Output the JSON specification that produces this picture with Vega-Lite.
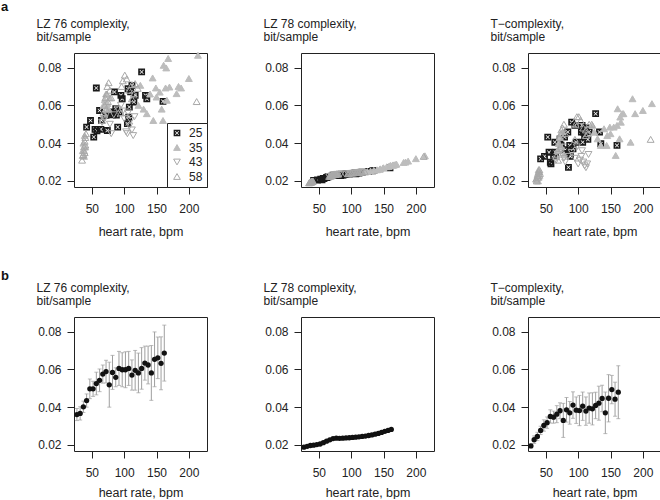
{
  "$schema": "https://vega.github.io/schema/vega-lite/v6.json",
  "padding": {"left": 0, "top": 0, "right": 0, "bottom": 0},
  "background": "white",
  "datasets": {
    "pts": [
      {"g":"25","hr":42,"lz76":0.0485,"lz78":0.0203,"tc":0.0317},
      {"g":"25","hr":48,"lz76":0.0520,"lz78":0.0205,"tc":0.0330},
      {"g":"25","hr":53,"lz76":0.0432,"lz78":0.0209,"tc":0.0432},
      {"g":"25","hr":55,"lz76":0.0473,"lz78":0.0206,"tc":0.0352},
      {"g":"25","hr":57,"lz76":0.0692,"lz78":0.0214,"tc":0.0299},
      {"g":"25","hr":58,"lz76":0.0465,"lz78":0.0212,"tc":0.0290},
      {"g":"25","hr":62,"lz76":0.0573,"lz78":0.0218,"tc":0.0335},
      {"g":"25","hr":64,"lz76":0.0473,"lz78":0.0221,"tc":0.0405},
      {"g":"25","hr":65,"lz76":0.0520,"lz78":0.0224,"tc":0.0352},
      {"g":"25","hr":72,"lz76":0.0547,"lz78":0.0230,"tc":0.0423},
      {"g":"25","hr":74,"lz76":0.0467,"lz78":0.0228,"tc":0.0388},
      {"g":"25","hr":79,"lz76":0.0565,"lz78":0.0233,"tc":0.0432},
      {"g":"25","hr":80,"lz76":0.0560,"lz78":0.0232,"tc":0.0365},
      {"g":"25","hr":82,"lz76":0.0550,"lz78":0.0231,"tc":0.0345},
      {"g":"25","hr":84,"lz76":0.0556,"lz78":0.0229,"tc":0.0459},
      {"g":"25","hr":85,"lz76":0.0671,"lz78":0.0236,"tc":0.0272},
      {"g":"25","hr":87,"lz76":0.0582,"lz78":0.0231,"tc":0.0388},
      {"g":"25","hr":88,"lz76":0.0548,"lz78":0.0233,"tc":0.0330},
      {"g":"25","hr":90,"lz76":0.0485,"lz78":0.0234,"tc":0.0511},
      {"g":"25","hr":92,"lz76":0.0565,"lz78":0.0237,"tc":0.0370},
      {"g":"25","hr":95,"lz76":0.0653,"lz78":0.0239,"tc":0.0494},
      {"g":"25","hr":97,"lz76":0.0635,"lz78":0.0236,"tc":0.0405},
      {"g":"25","hr":105,"lz76":0.0503,"lz78":0.0240,"tc":0.0459},
      {"g":"25","hr":106,"lz76":0.0688,"lz78":0.0243,"tc":0.0494},
      {"g":"25","hr":107,"lz76":0.0538,"lz78":0.0238,"tc":0.0405},
      {"g":"25","hr":108,"lz76":0.0591,"lz78":0.0241,"tc":0.0459},
      {"g":"25","hr":110,"lz76":0.0671,"lz78":0.0244,"tc":0.0440},
      {"g":"25","hr":112,"lz76":0.0706,"lz78":0.0242,"tc":0.0480},
      {"g":"25","hr":115,"lz76":0.0618,"lz78":0.0245,"tc":0.0420},
      {"g":"25","hr":117,"lz76":0.0653,"lz78":0.0246,"tc":0.0460},
      {"g":"25","hr":127,"lz76":0.0777,"lz78":0.0250,"tc":0.0556},
      {"g":"25","hr":133,"lz76":0.0653,"lz78":0.0253,"tc":0.0459},
      {"g":"25","hr":135,"lz76":0.0635,"lz78":0.0255,"tc":0.0397},
      {"g":"25","hr":160,"lz76":0.0621,"lz78":0.0270,"tc":0.0388},
      {"g":"35","hr":36,"lz76":0.0360,"lz78":0.0193,"tc":0.0210},
      {"g":"35","hr":37,"lz76":0.0400,"lz78":0.0195,"tc":0.0230},
      {"g":"35","hr":38,"lz76":0.0330,"lz78":0.0192,"tc":0.0200},
      {"g":"35","hr":39,"lz76":0.0440,"lz78":0.0197,"tc":0.0260},
      {"g":"35","hr":40,"lz76":0.0380,"lz78":0.0196,"tc":0.0250},
      {"g":"35","hr":68,"lz76":0.0600,"lz78":0.0226,"tc":0.0360},
      {"g":"35","hr":70,"lz76":0.0630,"lz78":0.0231,"tc":0.0400},
      {"g":"35","hr":72,"lz76":0.0660,"lz78":0.0233,"tc":0.0430},
      {"g":"35","hr":74,"lz76":0.0610,"lz78":0.0235,"tc":0.0380},
      {"g":"35","hr":76,"lz76":0.0580,"lz78":0.0236,"tc":0.0460},
      {"g":"35","hr":78,"lz76":0.0640,"lz78":0.0238,"tc":0.0340},
      {"g":"35","hr":122,"lz76":0.0600,"lz78":0.0248,"tc":0.0494},
      {"g":"35","hr":125,"lz76":0.0706,"lz78":0.0250,"tc":0.0458},
      {"g":"35","hr":130,"lz76":0.0580,"lz78":0.0252,"tc":0.0423},
      {"g":"35","hr":135,"lz76":0.0556,"lz78":0.0256,"tc":0.0388},
      {"g":"35","hr":140,"lz76":0.0660,"lz78":0.0259,"tc":0.0476},
      {"g":"35","hr":144,"lz76":0.0745,"lz78":0.0262,"tc":0.0388},
      {"g":"35","hr":145,"lz76":0.0520,"lz78":0.0264,"tc":0.0440},
      {"g":"35","hr":149,"lz76":0.0692,"lz78":0.0268,"tc":0.0485},
      {"g":"35","hr":150,"lz76":0.0644,"lz78":0.0270,"tc":0.0450},
      {"g":"35","hr":155,"lz76":0.0670,"lz78":0.0275,"tc":0.0485},
      {"g":"35","hr":158,"lz76":0.0580,"lz78":0.0277,"tc":0.0335},
      {"g":"35","hr":160,"lz76":0.0520,"lz78":0.0280,"tc":0.0494},
      {"g":"35","hr":161,"lz76":0.0812,"lz78":0.0282,"tc":0.0582},
      {"g":"35","hr":164,"lz76":0.0692,"lz78":0.0283,"tc":0.0423},
      {"g":"35","hr":165,"lz76":0.0798,"lz78":0.0285,"tc":0.0538},
      {"g":"35","hr":166,"lz76":0.0627,"lz78":0.0284,"tc":0.0511},
      {"g":"35","hr":168,"lz76":0.0848,"lz78":0.0287,"tc":0.0556},
      {"g":"35","hr":170,"lz76":0.0697,"lz78":0.0289,"tc":0.0556},
      {"g":"35","hr":181,"lz76":0.0662,"lz78":0.0298,"tc":0.0405},
      {"g":"35","hr":184,"lz76":0.0700,"lz78":0.0300,"tc":0.0635},
      {"g":"35","hr":188,"lz76":0.0692,"lz78":0.0305,"tc":0.0556},
      {"g":"35","hr":200,"lz76":0.0742,"lz78":0.0318,"tc":0.0573},
      {"g":"35","hr":214,"lz76":0.0865,"lz78":0.0333,"tc":0.0609},
      {"g":"43","hr":66,"lz76":0.0510,"lz78":0.0223,"tc":0.0310},
      {"g":"43","hr":70,"lz76":0.0530,"lz78":0.0227,"tc":0.0340},
      {"g":"43","hr":74,"lz76":0.0560,"lz78":0.0233,"tc":0.0360},
      {"g":"43","hr":78,"lz76":0.0500,"lz78":0.0235,"tc":0.0320},
      {"g":"43","hr":80,"lz76":0.0450,"lz78":0.0234,"tc":0.0300},
      {"g":"43","hr":84,"lz76":0.0550,"lz78":0.0236,"tc":0.0330},
      {"g":"43","hr":90,"lz76":0.0580,"lz78":0.0237,"tc":0.0350},
      {"g":"43","hr":95,"lz76":0.0600,"lz78":0.0238,"tc":0.0320},
      {"g":"43","hr":98,"lz76":0.0570,"lz78":0.0239,"tc":0.0380},
      {"g":"43","hr":100,"lz76":0.0530,"lz78":0.0240,"tc":0.0290},
      {"g":"43","hr":103,"lz76":0.0460,"lz78":0.0241,"tc":0.0310},
      {"g":"43","hr":105,"lz76":0.0450,"lz78":0.0242,"tc":0.0330},
      {"g":"43","hr":106,"lz76":0.0560,"lz78":0.0240,"tc":0.0360},
      {"g":"43","hr":108,"lz76":0.0490,"lz78":0.0243,"tc":0.0300},
      {"g":"43","hr":110,"lz76":0.0520,"lz78":0.0244,"tc":0.0280},
      {"g":"43","hr":112,"lz76":0.0470,"lz78":0.0245,"tc":0.0270},
      {"g":"43","hr":114,"lz76":0.0440,"lz78":0.0246,"tc":0.0290},
      {"g":"43","hr":116,"lz76":0.0540,"lz78":0.0247,"tc":0.0340},
      {"g":"58","hr":35,"lz76":0.0310,"lz78":0.0190,"tc":0.0210},
      {"g":"58","hr":36,"lz76":0.0335,"lz78":0.0191,"tc":0.0200},
      {"g":"58","hr":37,"lz76":0.0340,"lz78":0.0194,"tc":0.0220},
      {"g":"58","hr":38,"lz76":0.0360,"lz78":0.0196,"tc":0.0230},
      {"g":"58","hr":38,"lz76":0.0380,"lz78":0.0195,"tc":0.0240},
      {"g":"58","hr":39,"lz76":0.0350,"lz78":0.0197,"tc":0.0220},
      {"g":"58","hr":39,"lz76":0.0410,"lz78":0.0198,"tc":0.0250},
      {"g":"58","hr":40,"lz76":0.0390,"lz78":0.0197,"tc":0.0230},
      {"g":"58","hr":40,"lz76":0.0430,"lz78":0.0199,"tc":0.0260},
      {"g":"58","hr":41,"lz76":0.0450,"lz78":0.0200,"tc":0.0240},
      {"g":"58","hr":66,"lz76":0.0520,"lz78":0.0224,"tc":0.0330},
      {"g":"58","hr":68,"lz76":0.0560,"lz78":0.0228,"tc":0.0360},
      {"g":"58","hr":69,"lz76":0.0550,"lz78":0.0226,"tc":0.0310},
      {"g":"58","hr":70,"lz76":0.0600,"lz78":0.0230,"tc":0.0400},
      {"g":"58","hr":71,"lz76":0.0640,"lz78":0.0233,"tc":0.0430},
      {"g":"58","hr":72,"lz76":0.0580,"lz78":0.0232,"tc":0.0380},
      {"g":"58","hr":73,"lz76":0.0660,"lz78":0.0235,"tc":0.0450},
      {"g":"58","hr":74,"lz76":0.0700,"lz78":0.0236,"tc":0.0470},
      {"g":"58","hr":75,"lz76":0.0620,"lz78":0.0234,"tc":0.0410},
      {"g":"58","hr":76,"lz76":0.0720,"lz78":0.0237,"tc":0.0480},
      {"g":"58","hr":78,"lz76":0.0680,"lz78":0.0238,"tc":0.0500},
      {"g":"58","hr":80,"lz76":0.0640,"lz78":0.0236,"tc":0.0450},
      {"g":"58","hr":95,"lz76":0.0560,"lz78":0.0238,"tc":0.0420},
      {"g":"58","hr":96,"lz76":0.0700,"lz78":0.0240,"tc":0.0500},
      {"g":"58","hr":98,"lz76":0.0730,"lz78":0.0241,"tc":0.0540},
      {"g":"58","hr":101,"lz76":0.0760,"lz78":0.0242,"tc":0.0540},
      {"g":"58","hr":104,"lz76":0.0740,"lz78":0.0243,"tc":0.0520},
      {"g":"58","hr":108,"lz76":0.0680,"lz78":0.0244,"tc":0.0480},
      {"g":"58","hr":112,"lz76":0.0710,"lz78":0.0245,"tc":0.0470},
      {"g":"58","hr":112,"lz76":0.0635,"lz78":0.0244,"tc":0.0440},
      {"g":"58","hr":115,"lz76":0.0660,"lz78":0.0246,"tc":0.0450},
      {"g":"58","hr":117,"lz76":0.0715,"lz78":0.0247,"tc":0.0500},
      {"g":"58","hr":121,"lz76":0.0690,"lz78":0.0249,"tc":0.0500},
      {"g":"58","hr":212,"lz76":0.0620,"lz78":0.0330,"tc":0.0420}
    ],
    "bins": [
      {"hr":27,"lz76":0.0361,"lz76_lo":0.0329,"lz76_hi":0.0393,"lz78":0.0188,"lz78_lo":0.0186,"lz78_hi":0.0190,"tc":0.0195,"tc_lo":0.0185,"tc_hi":0.0205},
      {"hr":32,"lz76":0.0367,"lz76_lo":0.0332,"lz76_hi":0.0402,"lz78":0.0193,"lz78_lo":0.0191,"lz78_hi":0.0195,"tc":0.0228,"tc_lo":0.0208,"tc_hi":0.0248},
      {"hr":37,"lz76":0.0402,"lz76_lo":0.0372,"lz76_hi":0.0432,"lz78":0.0197,"lz78_lo":0.0195,"lz78_hi":0.0199,"tc":0.0245,"tc_lo":0.0223,"tc_hi":0.0267},
      {"hr":42,"lz76":0.0435,"lz76_lo":0.0400,"lz76_hi":0.0470,"lz78":0.0199,"lz78_lo":0.0197,"lz78_hi":0.0201,"tc":0.0277,"tc_lo":0.0255,"tc_hi":0.0299},
      {"hr":47,"lz76":0.0497,"lz76_lo":0.0445,"lz76_hi":0.0549,"lz78":0.0202,"lz78_lo":0.0200,"lz78_hi":0.0204,"tc":0.0303,"tc_lo":0.0273,"tc_hi":0.0333},
      {"hr":52,"lz76":0.0497,"lz76_lo":0.0457,"lz76_hi":0.0537,"lz78":0.0205,"lz78_lo":0.0203,"lz78_hi":0.0207,"tc":0.0318,"tc_lo":0.0288,"tc_hi":0.0348},
      {"hr":57,"lz76":0.0525,"lz76_lo":0.0465,"lz76_hi":0.0585,"lz78":0.0212,"lz78_lo":0.0210,"lz78_hi":0.0214,"tc":0.0351,"tc_lo":0.0316,"tc_hi":0.0386},
      {"hr":62,"lz76":0.0542,"lz76_lo":0.0482,"lz76_hi":0.0602,"lz78":0.0220,"lz78_lo":0.0218,"lz78_hi":0.0222,"tc":0.0347,"tc_lo":0.0315,"tc_hi":0.0379},
      {"hr":67,"lz76":0.0575,"lz76_lo":0.0527,"lz76_hi":0.0623,"lz78":0.0227,"lz78_lo":0.0225,"lz78_hi":0.0229,"tc":0.0363,"tc_lo":0.0318,"tc_hi":0.0408},
      {"hr":72,"lz76":0.0588,"lz76_lo":0.0528,"lz76_hi":0.0648,"lz78":0.0234,"lz78_lo":0.0232,"lz78_hi":0.0236,"tc":0.0381,"tc_lo":0.0339,"tc_hi":0.0423},
      {"hr":77,"lz76":0.0518,"lz76_lo":0.0400,"lz76_hi":0.0638,"lz78":0.0236,"lz78_lo":0.0234,"lz78_hi":0.0238,"tc":0.0330,"tc_lo":0.0240,"tc_hi":0.0420},
      {"hr":82,"lz76":0.0584,"lz76_lo":0.0494,"lz76_hi":0.0674,"lz78":0.0235,"lz78_lo":0.0233,"lz78_hi":0.0237,"tc":0.0386,"tc_lo":0.0321,"tc_hi":0.0451},
      {"hr":87,"lz76":0.0558,"lz76_lo":0.0508,"lz76_hi":0.0608,"lz78":0.0236,"lz78_lo":0.0234,"lz78_hi":0.0238,"tc":0.0370,"tc_lo":0.0310,"tc_hi":0.0430},
      {"hr":92,"lz76":0.0605,"lz76_lo":0.0515,"lz76_hi":0.0695,"lz78":0.0237,"lz78_lo":0.0235,"lz78_hi":0.0239,"tc":0.0411,"tc_lo":0.0341,"tc_hi":0.0481},
      {"hr":97,"lz76":0.0598,"lz76_lo":0.0508,"lz76_hi":0.0688,"lz78":0.0238,"lz78_lo":0.0236,"lz78_hi":0.0240,"tc":0.0384,"tc_lo":0.0314,"tc_hi":0.0454},
      {"hr":102,"lz76":0.0598,"lz76_lo":0.0503,"lz76_hi":0.0693,"lz78":0.0240,"lz78_lo":0.0238,"lz78_hi":0.0242,"tc":0.0382,"tc_lo":0.0302,"tc_hi":0.0462},
      {"hr":107,"lz76":0.0605,"lz76_lo":0.0515,"lz76_hi":0.0695,"lz78":0.0241,"lz78_lo":0.0239,"lz78_hi":0.0243,"tc":0.0405,"tc_lo":0.0330,"tc_hi":0.0480},
      {"hr":112,"lz76":0.0570,"lz76_lo":0.0490,"lz76_hi":0.0650,"lz78":0.0243,"lz78_lo":0.0241,"lz78_hi":0.0245,"tc":0.0379,"tc_lo":0.0304,"tc_hi":0.0454},
      {"hr":117,"lz76":0.0595,"lz76_lo":0.0490,"lz76_hi":0.0700,"lz78":0.0245,"lz78_lo":0.0243,"lz78_hi":0.0247,"tc":0.0395,"tc_lo":0.0315,"tc_hi":0.0475},
      {"hr":122,"lz76":0.0581,"lz76_lo":0.0476,"lz76_hi":0.0686,"lz78":0.0247,"lz78_lo":0.0245,"lz78_hi":0.0249,"tc":0.0391,"tc_lo":0.0306,"tc_hi":0.0476},
      {"hr":127,"lz76":0.0605,"lz76_lo":0.0495,"lz76_hi":0.0715,"lz78":0.0250,"lz78_lo":0.0248,"lz78_hi":0.0252,"tc":0.0409,"tc_lo":0.0339,"tc_hi":0.0479},
      {"hr":132,"lz76":0.0633,"lz76_lo":0.0543,"lz76_hi":0.0723,"lz78":0.0253,"lz78_lo":0.0251,"lz78_hi":0.0255,"tc":0.0421,"tc_lo":0.0331,"tc_hi":0.0511},
      {"hr":137,"lz76":0.0623,"lz76_lo":0.0523,"lz76_hi":0.0723,"lz78":0.0257,"lz78_lo":0.0255,"lz78_hi":0.0259,"tc":0.0446,"tc_lo":0.0376,"tc_hi":0.0516},
      {"hr":142,"lz76":0.0581,"lz76_lo":0.0436,"lz76_hi":0.0726,"lz78":0.0261,"lz78_lo":0.0259,"lz78_hi":0.0263,"tc":0.0370,"tc_lo":0.0260,"tc_hi":0.0480},
      {"hr":147,"lz76":0.0653,"lz76_lo":0.0508,"lz76_hi":0.0798,"lz78":0.0266,"lz78_lo":0.0264,"lz78_hi":0.0268,"tc":0.0447,"tc_lo":0.0322,"tc_hi":0.0572},
      {"hr":152,"lz76":0.0661,"lz76_lo":0.0551,"lz76_hi":0.0771,"lz78":0.0272,"lz78_lo":0.0270,"lz78_hi":0.0274,"tc":0.0493,"tc_lo":0.0418,"tc_hi":0.0568},
      {"hr":157,"lz76":0.0632,"lz76_lo":0.0492,"lz76_hi":0.0772,"lz78":0.0277,"lz78_lo":0.0275,"lz78_hi":0.0279,"tc":0.0442,"tc_lo":0.0352,"tc_hi":0.0532},
      {"hr":162,"lz76":0.0686,"lz76_lo":0.0538,"lz76_hi":0.0834,"lz78":0.0282,"lz78_lo":0.0280,"lz78_hi":0.0284,"tc":0.0479,"tc_lo":0.0339,"tc_hi":0.0619}
    ]
  },
  "config": {
    "font": "Liberation Sans",
    "view": {"stroke": "#222222", "strokeWidth": 1},
    "axis": {
      "grid": false, "domain": false, "tickColor": "#222222", "tickSize": 7, "tickWidth": 1,
      "labelColor": "#222222", "labelFontSize": 12, "labelFont": "Liberation Sans",
      "titleColor": "#222222", "titleFontSize": 12, "titleFontWeight": "normal", "titleFont": "Liberation Sans"
    },
    "axisX": {"labelPadding": 9, "titleY": 48, "titleBaseline": "alphabetic", "titleFontSize": 12.5},
    "axisY": {"labelPadding": 6, "titleAngle": 0, "titleAlign": "left", "titleBaseline": "top", "titleX": -38, "titleY": -35, "titleLineHeight": 13},
    "title": {"anchor": "start", "frame": "group", "fontSize": 13, "fontWeight": "bold", "color": "#111111", "dx": -73, "offset": 3}
  },
  "columns": 3,
  "spacing": {"row": 130, "column": 94},
  "bounds": "flush",
  "resolve": {
    "scale": {"x": "independent", "y": "independent", "shape": "independent", "fill": "independent", "stroke": "independent"},
    "legend": {"shape": "independent", "fill": "independent", "stroke": "independent"}
  },
  "concat": [
    {
      "title": {"text": "a", "offset": 3},
      "width": 133, "height": 134,
      "data": {"name": "pts"},
      "mark": {"type": "point", "size": 47, "strokeWidth": 1, "opacity": 1},
      "encoding": {
        "x": {"field": "hr", "type": "quantitative", "scale": {"domain": [22.5, 228], "nice": false, "zero": false}, "axis": {"values": [50, 100, 150, 200], "title": "heart rate, bpm"}},
        "y": {"field": "lz76", "type": "quantitative", "scale": {"domain": [0.0168, 0.0877], "nice": false, "zero": false}, "axis": {"values": [0.02, 0.04, 0.06, 0.08], "format": ".2f", "title": ["LZ 76 complexity,", "bit/sample"]}},
        "shape": {"field": "g", "type": "nominal", "scale": {"domain": ["25", "35", "43", "58"], "range": ["M-1,-1H1V1H-1ZM0,-0.15L-0.45,-0.6L-0.6,-0.45L-0.15,0L-0.6,0.45L-0.45,0.6L0,0.15L0.45,0.6L0.6,0.45L0.15,0L0.6,-0.45L0.45,-0.6Z", "triangle-up", "triangle-down", "triangle-up"]},
          "legend": {"title": null, "orient": "bottom-right", "offset": 0, "padding": 4, "strokeColor": "#222222", "fillColor": "white", "labelFontSize": 12, "labelColor": "#222222", "symbolSize": 45, "rowPadding": 2.5, "labelOffset": 6, "symbolStrokeWidth": 1}},
        "fill": {"field": "g", "type": "nominal", "scale": {"domain": ["25", "35", "43", "58"], "range": ["#1a1a1a", "#bdbdbd", "transparent", "transparent"]}},
        "stroke": {"field": "g", "type": "nominal", "scale": {"domain": ["25", "35", "43", "58"], "range": ["transparent", "#bdbdbd", "#a8a8a8", "#a8a8a8"]}}
      }
    },
    {
      "width": 133, "height": 134,
      "data": {"name": "pts"},
      "mark": {"type": "point", "size": 47, "strokeWidth": 1, "opacity": 1},
      "encoding": {
        "x": {"field": "hr", "type": "quantitative", "scale": {"domain": [22.5, 228], "nice": false, "zero": false}, "axis": {"values": [50, 100, 150, 200], "title": "heart rate, bpm"}},
        "y": {"field": "lz78", "type": "quantitative", "scale": {"domain": [0.0168, 0.0877], "nice": false, "zero": false}, "axis": {"values": [0.02, 0.04, 0.06, 0.08], "format": ".2f", "title": ["LZ 78 complexity,", "bit/sample"]}},
        "shape": {"field": "g", "type": "nominal", "legend": null, "scale": {"domain": ["25", "35", "43", "58"], "range": ["M-1,-1H1V1H-1ZM0,-0.15L-0.45,-0.6L-0.6,-0.45L-0.15,0L-0.6,0.45L-0.45,0.6L0,0.15L0.45,0.6L0.6,0.45L0.15,0L0.6,-0.45L0.45,-0.6Z", "triangle-up", "triangle-down", "triangle-up"]}},
        "fill": {"field": "g", "type": "nominal", "legend": null, "scale": {"domain": ["25", "35", "43", "58"], "range": ["#1a1a1a", "#bdbdbd", "transparent", "transparent"]}},
        "stroke": {"field": "g", "type": "nominal", "legend": null, "scale": {"domain": ["25", "35", "43", "58"], "range": ["transparent", "#bdbdbd", "#a8a8a8", "#a8a8a8"]}}
      }
    },
    {
      "width": 133, "height": 134,
      "data": {"name": "pts"},
      "mark": {"type": "point", "size": 47, "strokeWidth": 1, "opacity": 1},
      "encoding": {
        "x": {"field": "hr", "type": "quantitative", "scale": {"domain": [22.5, 228], "nice": false, "zero": false}, "axis": {"values": [50, 100, 150, 200], "title": "heart rate, bpm"}},
        "y": {"field": "tc", "type": "quantitative", "scale": {"domain": [0.0168, 0.0877], "nice": false, "zero": false}, "axis": {"values": [0.02, 0.04, 0.06, 0.08], "format": ".2f", "title": ["T−complexity,", "bit/sample"]}},
        "shape": {"field": "g", "type": "nominal", "legend": null, "scale": {"domain": ["25", "35", "43", "58"], "range": ["M-1,-1H1V1H-1ZM0,-0.15L-0.45,-0.6L-0.6,-0.45L-0.15,0L-0.6,0.45L-0.45,0.6L0,0.15L0.45,0.6L0.6,0.45L0.15,0L0.6,-0.45L0.45,-0.6Z", "triangle-up", "triangle-down", "triangle-up"]}},
        "fill": {"field": "g", "type": "nominal", "legend": null, "scale": {"domain": ["25", "35", "43", "58"], "range": ["#1a1a1a", "#bdbdbd", "transparent", "transparent"]}},
        "stroke": {"field": "g", "type": "nominal", "legend": null, "scale": {"domain": ["25", "35", "43", "58"], "range": ["transparent", "#bdbdbd", "#a8a8a8", "#a8a8a8"]}}
      }
    },
    {
      "title": {"text": "b", "offset": -2},
      "width": 133, "height": 134,
      "data": {"name": "bins"},
      "layer": [
        {
          "mark": {"type": "errorbar", "color": "#9e9e9e", "thickness": 1, "ticks": {"size": 4, "color": "#9e9e9e"}},
          "encoding": {
            "x": {"field": "hr", "type": "quantitative", "scale": {"domain": [22.5, 228], "nice": false, "zero": false}, "axis": {"values": [50, 100, 150, 200], "title": "heart rate, bpm", "titleY": 45}},
            "y": {"field": "lz76_lo", "type": "quantitative", "scale": {"domain": [0.0168, 0.0877], "nice": false, "zero": false}, "axis": {"values": [0.02, 0.04, 0.06, 0.08], "format": ".2f", "title": ["LZ 76 complexity,", "bit/sample"]}},
            "y2": {"field": "lz76_hi"}
          }
        },
        {
          "mark": {"type": "circle", "size": 28, "color": "#111111", "opacity": 1},
          "encoding": {
            "x": {"field": "hr", "type": "quantitative", "scale": {"domain": [22.5, 228], "nice": false, "zero": false}, "axis": {"values": [50, 100, 150, 200], "title": "heart rate, bpm", "titleY": 45}},
            "y": {"field": "lz76", "type": "quantitative", "scale": {"domain": [0.0168, 0.0877], "nice": false, "zero": false}, "axis": {"values": [0.02, 0.04, 0.06, 0.08], "format": ".2f", "title": ["LZ 76 complexity,", "bit/sample"]}}
          }
        }
      ]
    },
    {
      "width": 133, "height": 134,
      "data": {"name": "bins"},
      "layer": [
        {
          "mark": {"type": "errorbar", "color": "#9e9e9e", "thickness": 1, "ticks": {"size": 4, "color": "#9e9e9e"}},
          "encoding": {
            "x": {"field": "hr", "type": "quantitative", "scale": {"domain": [22.5, 228], "nice": false, "zero": false}, "axis": {"values": [50, 100, 150, 200], "title": "heart rate, bpm", "titleY": 45}},
            "y": {"field": "lz78_lo", "type": "quantitative", "scale": {"domain": [0.0168, 0.0877], "nice": false, "zero": false}, "axis": {"values": [0.02, 0.04, 0.06, 0.08], "format": ".2f", "title": ["LZ 78 complexity,", "bit/sample"]}},
            "y2": {"field": "lz78_hi"}
          }
        },
        {
          "mark": {"type": "circle", "size": 28, "color": "#111111", "opacity": 1},
          "encoding": {
            "x": {"field": "hr", "type": "quantitative", "scale": {"domain": [22.5, 228], "nice": false, "zero": false}, "axis": {"values": [50, 100, 150, 200], "title": "heart rate, bpm", "titleY": 45}},
            "y": {"field": "lz78", "type": "quantitative", "scale": {"domain": [0.0168, 0.0877], "nice": false, "zero": false}, "axis": {"values": [0.02, 0.04, 0.06, 0.08], "format": ".2f", "title": ["LZ 78 complexity,", "bit/sample"]}}
          }
        }
      ]
    },
    {
      "width": 133, "height": 134,
      "data": {"name": "bins"},
      "layer": [
        {
          "mark": {"type": "errorbar", "color": "#9e9e9e", "thickness": 1, "ticks": {"size": 4, "color": "#9e9e9e"}},
          "encoding": {
            "x": {"field": "hr", "type": "quantitative", "scale": {"domain": [22.5, 228], "nice": false, "zero": false}, "axis": {"values": [50, 100, 150, 200], "title": "heart rate, bpm", "titleY": 45}},
            "y": {"field": "tc_lo", "type": "quantitative", "scale": {"domain": [0.0168, 0.0877], "nice": false, "zero": false}, "axis": {"values": [0.02, 0.04, 0.06, 0.08], "format": ".2f", "title": ["T−complexity,", "bit/sample"]}},
            "y2": {"field": "tc_hi"}
          }
        },
        {
          "mark": {"type": "circle", "size": 28, "color": "#111111", "opacity": 1},
          "encoding": {
            "x": {"field": "hr", "type": "quantitative", "scale": {"domain": [22.5, 228], "nice": false, "zero": false}, "axis": {"values": [50, 100, 150, 200], "title": "heart rate, bpm", "titleY": 45}},
            "y": {"field": "tc", "type": "quantitative", "scale": {"domain": [0.0168, 0.0877], "nice": false, "zero": false}, "axis": {"values": [0.02, 0.04, 0.06, 0.08], "format": ".2f", "title": ["T−complexity,", "bit/sample"]}}
          }
        }
      ]
    }
  ]
}
